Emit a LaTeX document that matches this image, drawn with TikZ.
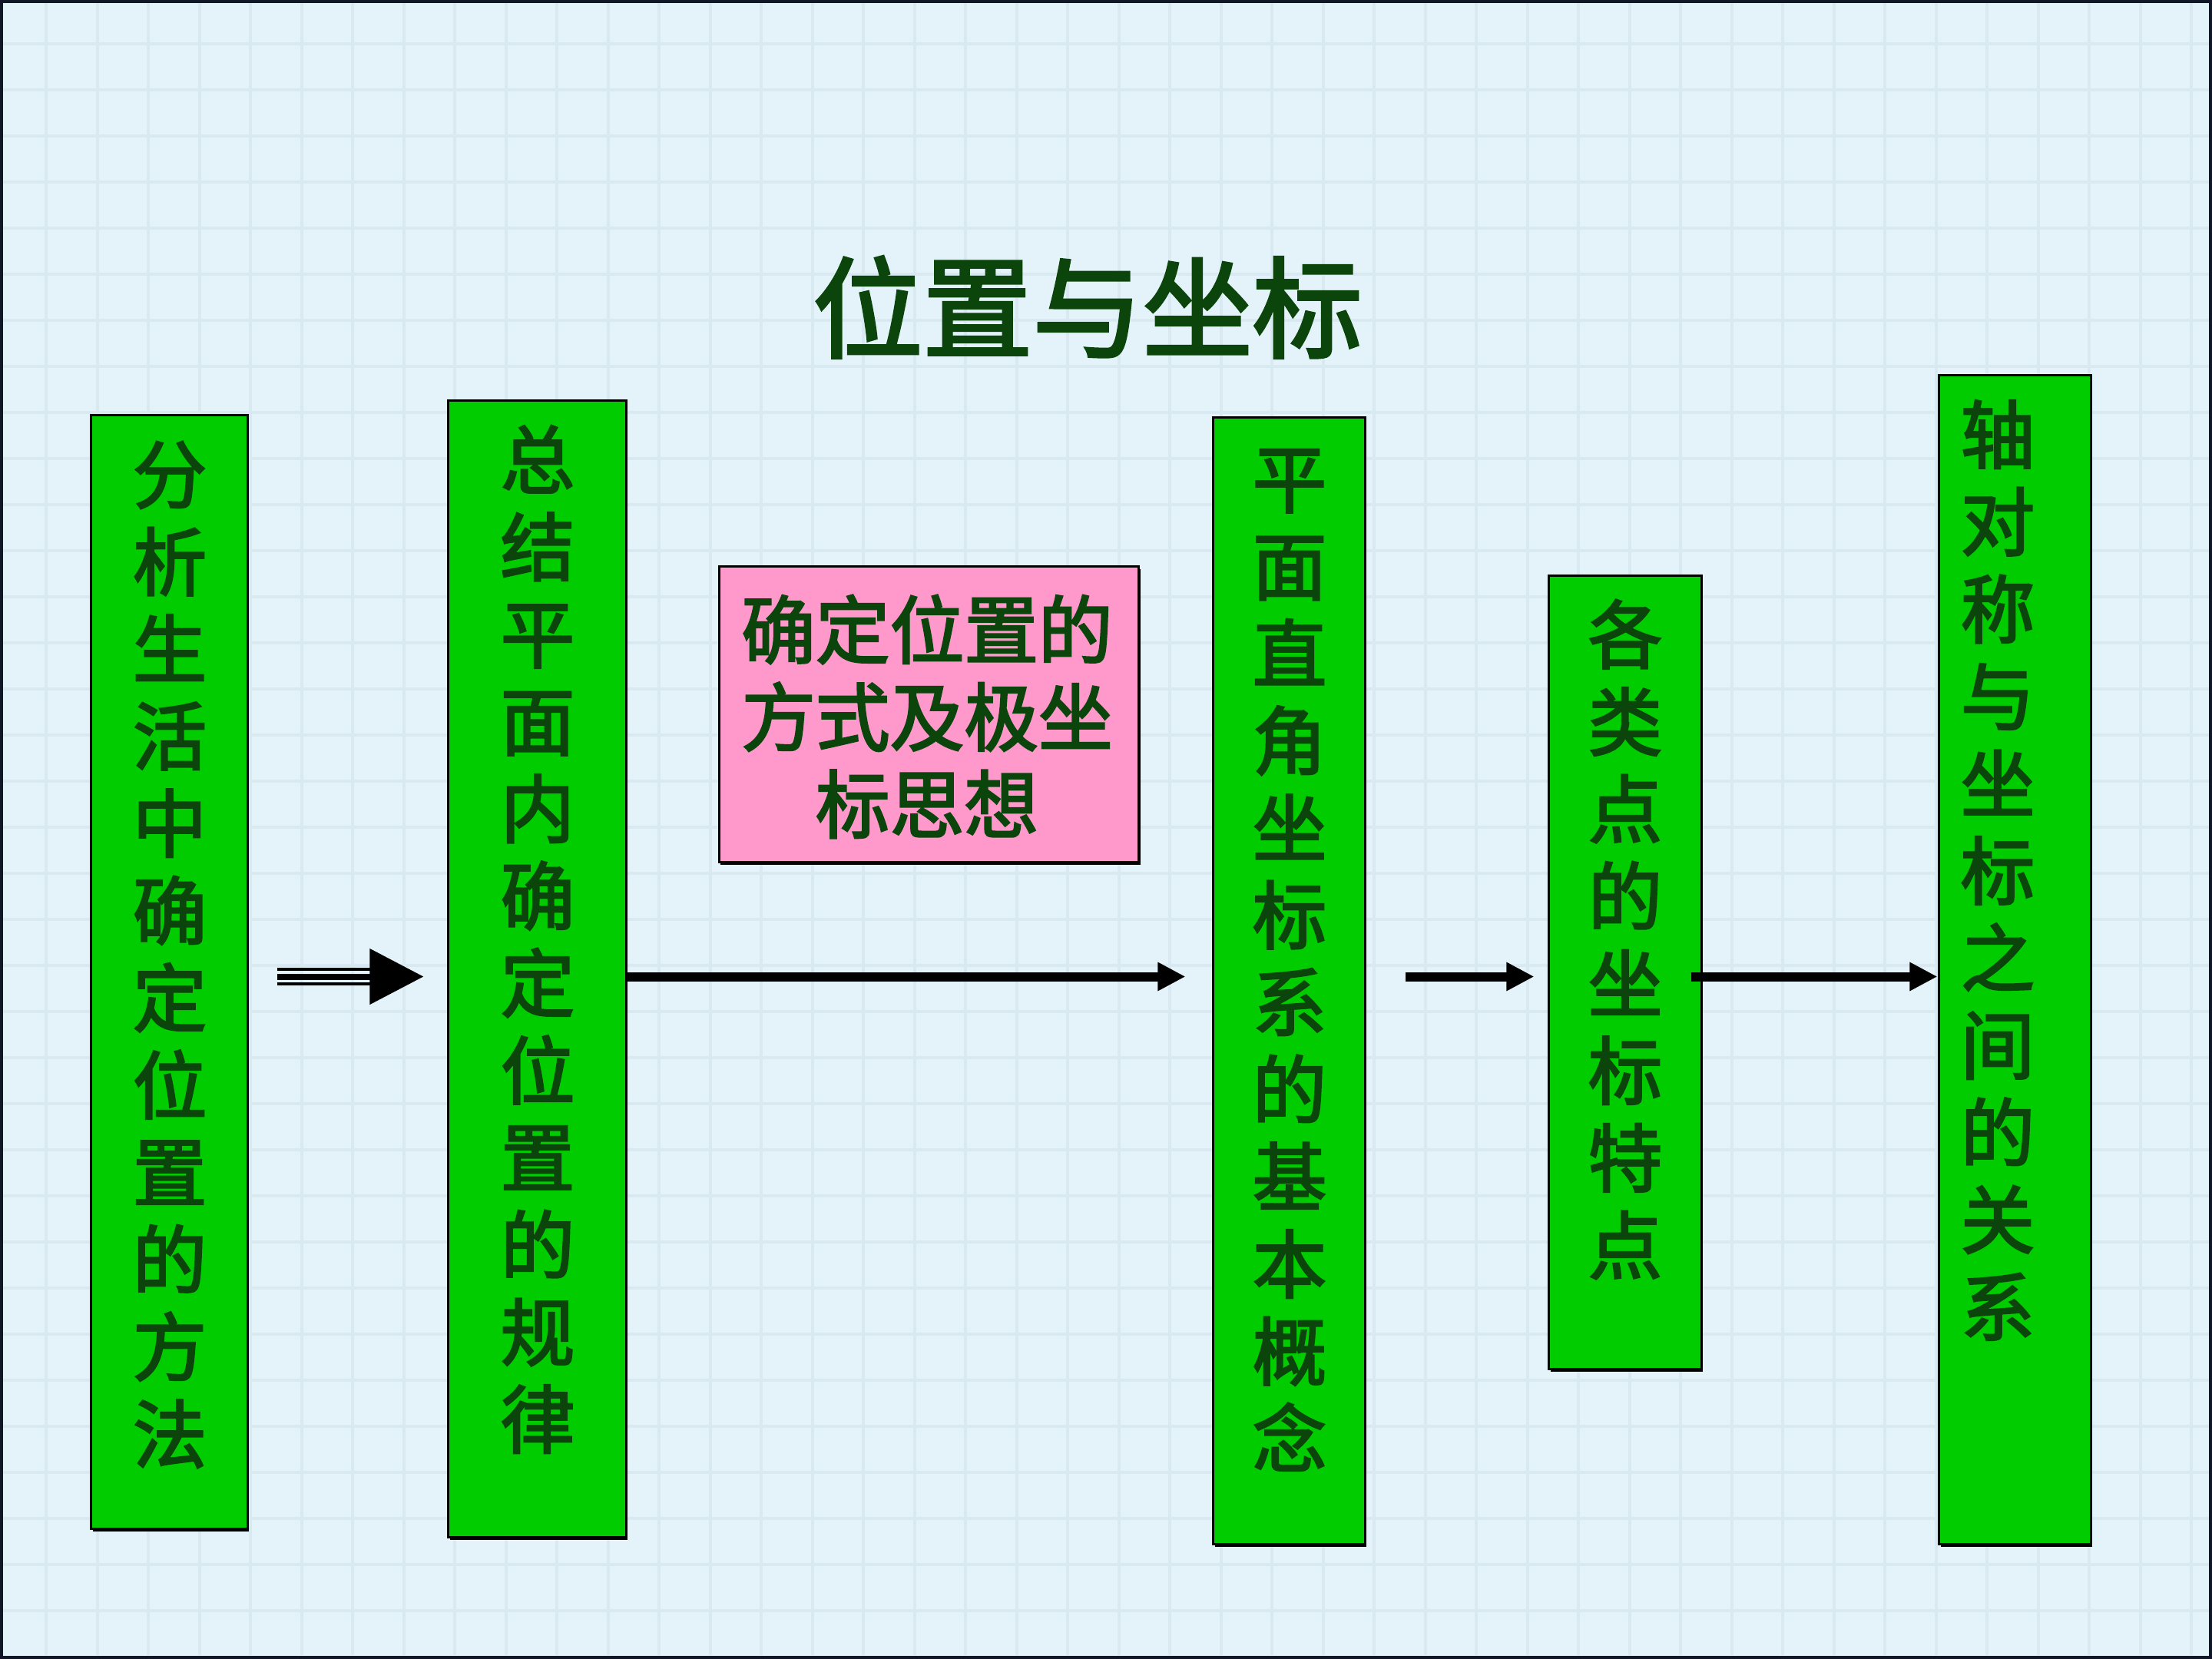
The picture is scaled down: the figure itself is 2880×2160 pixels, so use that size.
\documentclass[tikz,border=0pt]{standalone}
\usepackage{fontspec}
\newfontfamily\cjk[FakeBold=2.6]{Noto Sans CJK SC}
\usetikzlibrary{arrows.meta,shadows}
\definecolor{bg}{HTML}{E4F2FA}
\definecolor{gridc}{HTML}{D8E9F2}
\definecolor{boxgreen}{HTML}{00CC00}
\definecolor{boxpink}{HTML}{FF99CC}
\definecolor{txtgreen}{HTML}{0B450B}
\definecolor{framec}{HTML}{101828}
\begin{document}
\begin{tikzpicture}[x=0.01cm,y=-0.01cm,
  box/.style={draw=black, line width=0.03cm, inner sep=0pt,
    general shadow={fill=black, shadow xshift=0.02cm, shadow yshift=-0.035cm}},
  gbox/.style={box, fill=boxgreen},
  pbox/.style={box, fill=boxpink},
  btext/.style={font=\cjk\fontsize{27.5pt}{32.3pt}\selectfont, text=txtgreen, align=center, inner sep=0pt},
  ttext/.style={font=\cjk\fontsize{40.7pt}{46pt}\selectfont, text=txtgreen, inner sep=0pt},
  flow/.style={line width=0.12cm, -{Triangle[length=0.36cm,width=0.35cm]}},
]
\useasboundingbox (0,0) rectangle (2880,2160);
\fill[bg] (0,0) rectangle (2880,2160);
\foreach \gx in {60,126.5,...,2880} \draw[gridc, line width=0.04cm] (\gx,0) -- (\gx,2160);
\foreach \gy in {57,117,...,2160} \draw[gridc, line width=0.04cm] (0,\gy) -- (2880,\gy);
\draw[framec, line width=0.08cm] (0,0) rectangle (2880,2160);

% title
\node[ttext] (title) at (1416,400) {位置与坐标};

% boxes
\node[gbox, minimum width=2.03cm, minimum height=14.49cm] (b1) at (220.5,1265.5) {};
\node[gbox, minimum width=2.31cm, minimum height=14.79cm] (b2) at (699.5,1261.5) {};
\node[pbox, minimum width=5.46cm, minimum height=3.84cm] (bp) at (1209.5,930) {};
\node[gbox, minimum width=1.97cm, minimum height=14.66cm] (b4) at (1678.5,1277) {};
\node[gbox, minimum width=1.98cm, minimum height=10.32cm] (b5) at (2116,1266) {};
\node[gbox, minimum width=1.97cm, minimum height=15.21cm] (b6) at (2623.5,1249.5) {};

% texts
\node[btext] (t1) at (221,1243) {分\\析\\生\\活\\中\\确\\定\\位\\置\\的\\方\\法};
\node[btext] (t2) at (700,1223) {总\\结\\平\\面\\内\\确\\定\\位\\置\\的\\规\\律};
\node[btext] (tp) at (1207,933) {确定位置的\\方式及极坐\\标思想};
\node[btext] (t4) at (1679,1250) {平\\面\\直\\角\\坐\\标\\系\\的\\基\\本\\概\\念};
\node[btext] (t5) at (2116,1223) {各\\类\\点\\的\\坐\\标\\特\\点};
\node[btext] (t6) at (2601,1133) {轴\\对\\称\\与\\坐\\标\\之\\间\\的\\关\\系};

% connectors
\coordinate (ay) at (0,1271.5);
\coordinate (ayt) at (0,1262);
\coordinate (ayb) at (0,1281);
\draw[line width=0.08cm, shorten <=0.37cm, shorten >=0.31cm, -{Triangle[length=0.70cm,width=0.71cm]}] (b1.east |- ay) -- (b2.west |- ay);
\draw[line width=0.045cm, shorten <=0.37cm, shorten >=1.0cm] (b1.east |- ayt) -- (b2.west |- ayt);
\draw[line width=0.045cm, shorten <=0.37cm, shorten >=1.0cm] (b1.east |- ayb) -- (b2.west |- ayb);
\draw[flow, shorten >=0.35cm] (b2.east |- ay) -- (b4.west |- ay);
\draw[flow, shorten <=0.51cm, shorten >=0.18cm] (b4.east |- ay) -- (b5.west |- ay);
\draw[flow, shorten <=-0.15cm, shorten >=0.01cm] (b5.east |- ay) -- (b6.west |- ay);
\end{tikzpicture}
\end{document}
